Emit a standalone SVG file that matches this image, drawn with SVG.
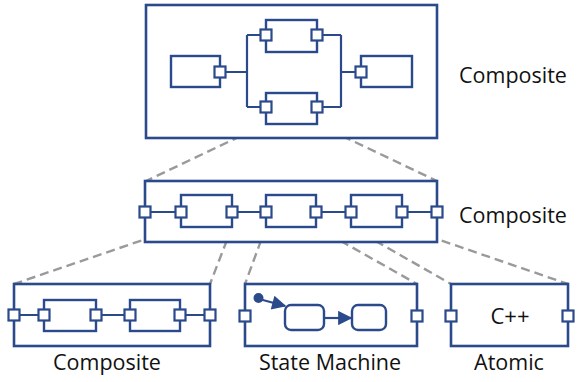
<svg xmlns="http://www.w3.org/2000/svg" width="577" height="382" viewBox="0 0 577 382">
<defs>
<style>
.box{fill:#fff;stroke:#2B4A8C;stroke-width:2.6}
.blk{fill:#fff;stroke:#2B4A8C;stroke-width:2.4}
.port{fill:#fff;stroke:#2B4A8C;stroke-width:2.2}
.wire{fill:none;stroke:#2B4A8C;stroke-width:2.2}
.dash{fill:none;stroke:#9a9a9a;stroke-width:2.4;stroke-dasharray:9 5}
.lbl{font-family:"Open Sans","Noto Sans","Liberation Sans",sans-serif;font-size:21.5px;fill:#111}
.st{fill:#fff;stroke:#2B4A8C;stroke-width:2.4}
</style>
<marker id="ah" viewBox="0 0 10 10" refX="9" refY="5" markerWidth="7" markerHeight="6.5" orient="auto" markerUnits="strokeWidth">
<path d="M0,0 L10,5 L0,10 z" fill="#2B4A8C"/>
</marker>
</defs>

<g id="connectors">
<path class="dash" d="M266,124 L146,181"/>
<path class="dash" d="M317,124 L437,181"/>
<path class="dash" d="M181,227 L14,284"/>
<path class="dash" d="M232,227 L210,284"/>
<path class="dash" d="M266,227 L245,284"/>
<path class="dash" d="M316,227 L417,284"/>
<path class="dash" d="M351,227 L451,284"/>
<path class="dash" d="M402,227 L568,284"/>
</g>

<g id="top-composite">
<rect class="box" x="146" y="5" width="291" height="133"/>
<path class="wire" d="M220,72 H247 M247,35 V107 M247,35 H266 M247,107 H266 M317,35 H341 M317,107 H341 M341,35 V107 M341,72 H361"/>
<rect class="blk" x="171" y="56" width="49" height="31"/>
<rect class="blk" x="361" y="56" width="51" height="31"/>
<rect class="blk" x="266" y="20" width="51" height="32"/>
<rect class="blk" x="266" y="93" width="51" height="31"/>
<rect class="port" x="214.5" y="66.5" width="11" height="11"/>
<rect class="port" x="355.5" y="66.5" width="11" height="11"/>
<rect class="port" x="260.5" y="29.5" width="11" height="11"/>
<rect class="port" x="311.5" y="29.5" width="11" height="11"/>
<rect class="port" x="260.5" y="101.5" width="11" height="11"/>
<rect class="port" x="311.5" y="101.5" width="11" height="11"/>
</g>
<text class="lbl" x="459" y="83">Composite</text>

<g id="mid-composite">
<rect class="box" x="145" y="181" width="292" height="61"/>
<path class="wire" d="M145,212 H181 M232,212 H266 M316,212 H351 M402,212 H437"/>
<rect class="blk" x="181" y="195" width="51" height="32"/>
<rect class="blk" x="266" y="195" width="50" height="32"/>
<rect class="blk" x="351" y="195" width="51" height="32"/>
<rect class="port" x="139.5" y="206.5" width="11" height="11"/>
<rect class="port" x="175.5" y="206.5" width="11" height="11"/>
<rect class="port" x="226.5" y="206.5" width="11" height="11"/>
<rect class="port" x="260.5" y="206.5" width="11" height="11"/>
<rect class="port" x="310.5" y="206.5" width="11" height="11"/>
<rect class="port" x="345.5" y="206.5" width="11" height="11"/>
<rect class="port" x="396.5" y="206.5" width="11" height="11"/>
<rect class="port" x="431.5" y="206.5" width="11" height="11"/>
</g>
<text class="lbl" x="459" y="223">Composite</text>

<g id="bottom-composite">
<rect class="box" x="14" y="284" width="196" height="62"/>
<path class="wire" d="M14,315 H44 M96,315 H130 M180,315 H210"/>
<rect class="blk" x="44" y="300" width="52" height="31"/>
<rect class="blk" x="130" y="300" width="50" height="31"/>
<rect class="port" x="8.5" y="309.5" width="11" height="11"/>
<rect class="port" x="38.5" y="309.5" width="11" height="11"/>
<rect class="port" x="90.5" y="309.5" width="11" height="11"/>
<rect class="port" x="124.5" y="309.5" width="11" height="11"/>
<rect class="port" x="174.5" y="309.5" width="11" height="11"/>
<rect class="port" x="204.5" y="309.5" width="11" height="11"/>
</g>
<text class="lbl" x="107" y="370" text-anchor="middle">Composite</text>

<g id="state-machine">
<rect class="box" x="245" y="284" width="172" height="62"/>
<circle cx="258.5" cy="298" r="5" fill="#2B4A8C"/>
<path class="wire" d="M261,299.5 L285,306" marker-end="url(#ah)"/>
<rect class="st" x="285" y="305" width="39" height="25" rx="6"/>
<rect class="st" x="352" y="305" width="34" height="25" rx="6"/>
<path class="wire" d="M324,318 L351,318" marker-end="url(#ah)"/>
<rect class="port" x="239.5" y="310.5" width="11" height="11"/>
<rect class="port" x="411.5" y="310.5" width="11" height="11"/>
</g>
<text class="lbl" x="330" y="370" text-anchor="middle">State Machine</text>

<g id="atomic">
<rect class="box" x="451" y="284" width="117" height="62"/>
<rect class="port" x="445.5" y="310.5" width="11" height="11"/>
<rect class="port" x="562.5" y="310.5" width="11" height="11"/>
<text x="510" y="324" text-anchor="middle" style="font-family:'Open Sans','Noto Sans','Liberation Sans',sans-serif;font-size:22px;fill:#111">C++</text>
</g>
<text class="lbl" x="509" y="370" text-anchor="middle">Atomic</text>
</svg>
